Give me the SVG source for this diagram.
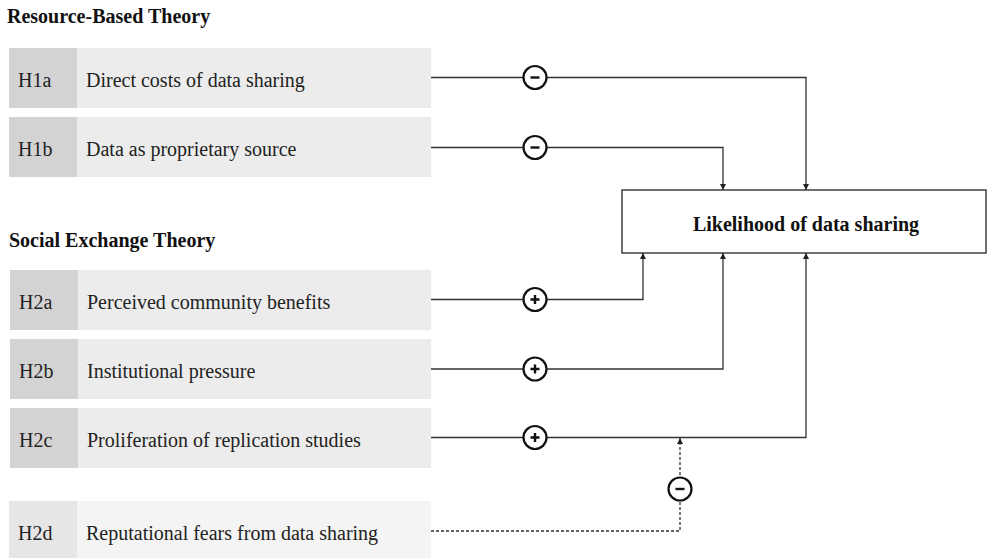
<svg xmlns="http://www.w3.org/2000/svg" width="987" height="558" viewBox="0 0 987 558">
<style>
.hdr{font-family:"Liberation Serif","Times New Roman",serif;font-weight:bold;font-size:20px;fill:#111}
.lbl{font-family:"Liberation Serif","Times New Roman",serif;font-size:20px;fill:#222}
.tag{fill:#d3d3d3}
.body{fill:#ececec}
.tag2{fill:#e6e6e6}
.body2{fill:#f4f4f4}
.ln{fill:none;stroke:#333;stroke-width:1.3}
.dash{fill:none;stroke:#333;stroke-width:1.3;stroke-dasharray:3 2}
.sig{fill:#fff;stroke:#111;stroke-width:2.2}
.sym{stroke:#111;stroke-width:2.4;fill:none}
.out{font-family:"Liberation Serif","Times New Roman",serif;font-weight:bold;font-size:20px;fill:#111}
</style>
<defs>
<marker id="ah" viewBox="0 0 8 8" refX="8" refY="4" markerWidth="6" markerHeight="6" markerUnits="userSpaceOnUse" orient="auto">
<path d="M0,0 L8,4 L0,8 z" fill="#222"/>
</marker>
</defs>
<text class="hdr" x="7" y="23">Resource-Based Theory</text>
<text class="hdr" x="9" y="247">Social Exchange Theory</text>
<g id="H1a">
<rect class="body" x="9" y="48" width="422" height="60"/>
<rect class="tag" x="9" y="48" width="68" height="60"/>
<text class="lbl" x="18" y="86.5">H1a</text>
<text class="lbl" x="86" y="86.5">Direct costs of data sharing</text>
</g>
<g id="H1b">
<rect class="body" x="9" y="117" width="422" height="60"/>
<rect class="tag" x="9" y="117" width="68" height="60"/>
<text class="lbl" x="18" y="155.5">H1b</text>
<text class="lbl" x="86" y="155.5">Data as proprietary source</text>
</g>
<g id="H2a">
<rect class="body" x="10" y="270" width="421" height="60"/>
<rect class="tag" x="10" y="270" width="68" height="60"/>
<text class="lbl" x="19" y="308.5">H2a</text>
<text class="lbl" x="87" y="308.5">Perceived community benefits</text>
</g>
<g id="H2b">
<rect class="body" x="10" y="339" width="421" height="60"/>
<rect class="tag" x="10" y="339" width="68" height="60"/>
<text class="lbl" x="19" y="377.5">H2b</text>
<text class="lbl" x="87" y="377.5">Institutional pressure</text>
</g>
<g id="H2c">
<rect class="body" x="10" y="408" width="421" height="60"/>
<rect class="tag" x="10" y="408" width="68" height="60"/>
<text class="lbl" x="19" y="446.5">H2c</text>
<text class="lbl" x="87" y="446.5">Proliferation of replication studies</text>
</g>
<g id="H2d">
<rect class="body2" x="9" y="501" width="422" height="57"/>
<rect class="tag2" x="9" y="501" width="68" height="57"/>
<text class="lbl" x="18" y="539.5">H2d</text>
<text class="lbl" x="86" y="539.5">Reputational fears from data sharing</text>
</g>
<g id="outcome">
<rect x="622" y="190" width="364" height="63" fill="#fff" stroke="#222" stroke-width="1.3"/>
<text class="out" x="806" y="231" text-anchor="middle">Likelihood of data sharing</text>
</g>
<g id="connectors">
<path class="ln" d="M431,77.5 H806 V190" marker-end="url(#ah)"/>
<path class="ln" d="M431,147.5 H723 V190" marker-end="url(#ah)"/>
<path class="ln" d="M431,299.5 H643 V253" marker-end="url(#ah)"/>
<path class="ln" d="M431,369 H723 V253" marker-end="url(#ah)"/>
<path class="ln" d="M431,437.5 H806 V253" marker-end="url(#ah)"/>
<path class="dash" d="M431,531 H680 V438" marker-end="url(#ah)"/>
<g id="s1"><circle class="sig" cx="535" cy="77.5" r="11.5"/><path class="sym" d="M530.5,77.5 H539.5"/></g>
<g id="s2"><circle class="sig" cx="535" cy="147.5" r="11.5"/><path class="sym" d="M530.5,147.5 H539.5"/></g>
<g id="s3"><circle class="sig" cx="535" cy="299.5" r="11.5"/><path class="sym" d="M530.5,299.5 H539.5 M535,295 V304"/></g>
<g id="s4"><circle class="sig" cx="535" cy="369" r="11.5"/><path class="sym" d="M530.5,369 H539.5 M535,364.5 V373.5"/></g>
<g id="s5"><circle class="sig" cx="535" cy="437.5" r="11.5"/><path class="sym" d="M530.5,437.5 H539.5 M535,433 V442"/></g>
<g id="s6"><circle class="sig" cx="680" cy="489" r="11.5"/><path class="sym" d="M675.5,489 H684.5"/></g>
</g>
</svg>
